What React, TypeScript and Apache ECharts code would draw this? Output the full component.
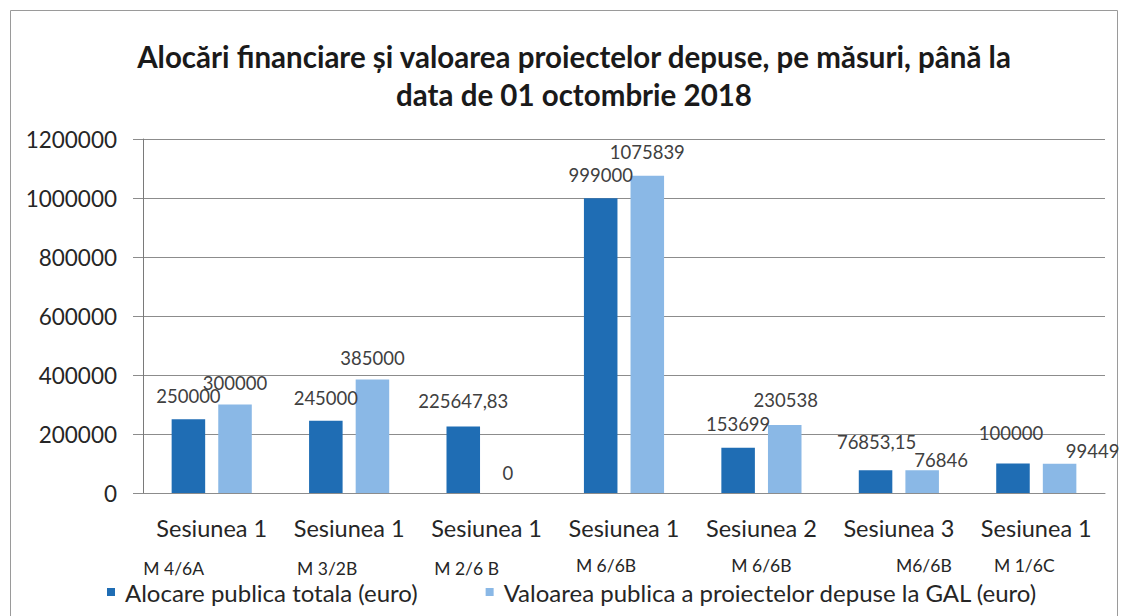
import React, { useEffect, useRef } from "react";
import * as echarts from "echarts";

const sessions = ["Sesiunea 1", "Sesiunea 1", "Sesiunea 1", "Sesiunea 1", "Sesiunea 2", "Sesiunea 3", "Sesiunea 1"];
const measures = ["M 4/6A", "M 3/2B", "M 2/6 B", "M 6/6B", "M 6/6B", "M6/6B", "M 1/6C"];
const allocated = [250000, 245000, 225647.83, 999000, 153699, 76853.15, 100000];
const submitted = [300000, 385000, 0, 1075839, 230538, 76846, 99449];
const seriesNames = ["Alocare publica totala (euro)", "Valoarea publica a proiectelor depuse la GAL (euro)"];
const yTicks = { min: 0, max: 1200000, interval: 200000 };
const titleText = "Alocări financiare și valoarea proiectelor depuse, pe măsuri, până la\ndata de 01 octombrie 2018";

// layout-only: horizontal shift of measure labels, and manual data-label nudges
const measureShift = [-38, -22, -20, -18, 0, 25, -12];
const measureLine = [50, 50, 50, 44, 44, 44, 44];
const allocatedLabelNudge = [[0, 0], [0, 1], [0, -2], [0, 0], [0, 0], [1, -5], [-2, -7]];
const submittedLabelNudge = [[0, 2], [0, 2], [-2, 3], [0, 0], [1, -1], [19, 13], [33, 11]];

const FONT = "Lato";

function fmt(v: number) {
  return String(v).replace(".", ",");
}

export default function App() {
  const ref = useRef<HTMLDivElement>(null);
  useEffect(() => {
    if (!ref.current) return;
    const chart = echarts.init(ref.current, null, { renderer: "svg" });
    const rich: any = {
      s: { fontFamily: FONT, fontSize: 23.5, lineHeight: 30, color: "#262626" },
    };
    measureShift.forEach((sh, i) => {
      rich["m" + i] = {
        fontFamily: FONT,
        fontSize: 17.5,
        lineHeight: measureLine[i],
        color: "#262626",
        padding: sh < 0 ? [0, -2 * sh, 0, 0] : [0, 0, 0, 2 * sh],
      };
    });
    const mkData = (vals: number[], nudges: number[][]) =>
      vals.map((v, i) => ({ value: v, label: { offset: nudges[i] } }));
    const labelCfg = {
      show: true,
      position: "top" as const,
      distance: 14,
      fontFamily: FONT,
      fontSize: 18.5,
      color: "#404040",
      formatter: (p: any) => fmt(p.value),
    };
    chart.setOption({
      animation: false,
      backgroundColor: "#ffffff",
      textStyle: { fontFamily: FONT },
      graphic: [
        {
          type: "rect",
          shape: { x: 10.5, y: 10.5, width: 1107, height: 640 },
          style: { fill: "none", stroke: "#9a9a9a", lineWidth: 1 },
          silent: true,
        },
      ],
      title: {
        text: titleText,
        left: 569,
        textAlign: "center",
        top: 32,
        textStyle: {
          fontFamily: FONT,
          fontWeight: "bold",
          fontSize: 29.5,
          lineHeight: 38,
          color: "#1a1a1a",
        },
      },
      legend: {
        data: seriesNames,
        bottom: 7,
        left: 102,
        icon: "rect",
        itemWidth: 8,
        itemHeight: 8,
        itemGap: 68,
        textStyle: { fontFamily: FONT, fontSize: 24, color: "#262626", padding: [0, 0, 0, 5] },
      },
      grid: { left: 143, right: 18, top: 139, bottom: 123, containLabel: false },
      xAxis: {
        type: "category",
        data: sessions,
        axisLine: { show: true, lineStyle: { color: "#8c8c8c", width: 1 } },
        axisTick: { show: false },
        axisLabel: {
          interval: 0,
          margin: 20,
          formatter: (v: string, i: number) => `{s|${v}}\n{m${i}|${measures[i]}}`,
          rich,
        },
      },
      yAxis: {
        type: "value",
        min: yTicks.min,
        max: yTicks.max,
        interval: yTicks.interval,
        axisLine: { show: true, lineStyle: { color: "#7a7a7a", width: 1 } },
        axisTick: { show: true, length: 10, lineStyle: { color: "#8c8c8c" } },
        splitLine: { show: true, lineStyle: { color: "#8c8c8c", width: 1 } },
        axisLabel: {
          fontFamily: FONT,
          fontSize: 22.5,
          color: "#262626",
          margin: 26,
          formatter: (v: number) => String(v),
        },
      },
      series: [
        {
          name: seriesNames[0],
          type: "bar",
          data: mkData(allocated, allocatedLabelNudge),
          barWidth: "24.4%",
          barGap: "39%",
          itemStyle: { color: "#1f6db4" },
          label: labelCfg,
        },
        {
          name: seriesNames[1],
          type: "bar",
          data: mkData(submitted, submittedLabelNudge),
          barWidth: "24.4%",
          barGap: "39%",
          itemStyle: { color: "#8ab8e6" },
          label: labelCfg,
        },
      ],
    });
    return () => chart.dispose();
  }, []);
  return (
    <div
      ref={ref}
      style={{ position: "absolute", left: 0, top: 0, width: 1123, height: 616, background: "#fff" }}
    />
  );
}
